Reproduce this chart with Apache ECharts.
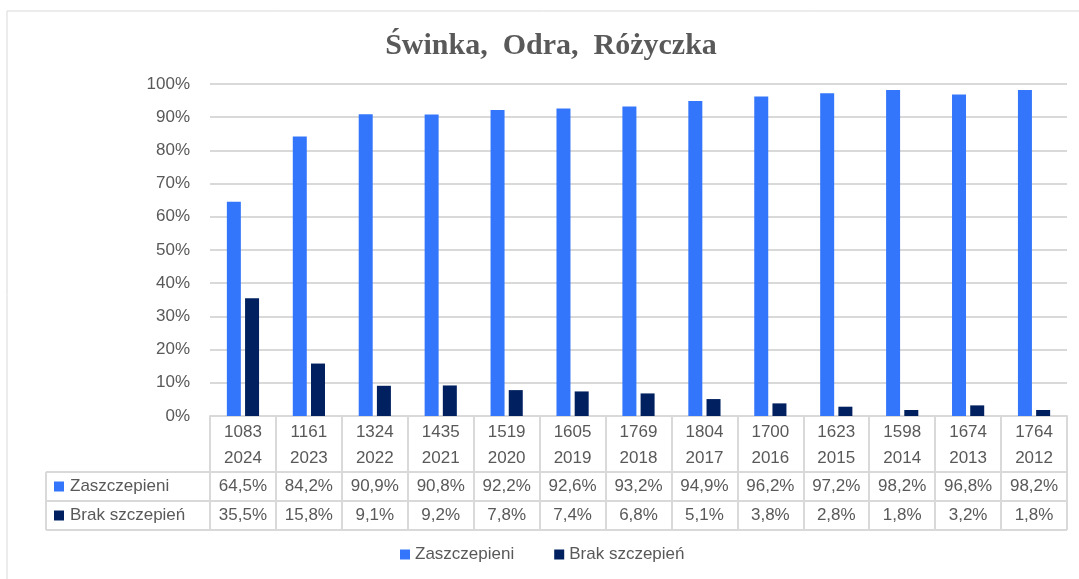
<!DOCTYPE html>
<html>
<head>
<meta charset="utf-8">
<script src="https://cdn.jsdelivr.net/npm/echarts@6/dist/echarts.min.js"></script>
<style>
  html, body { margin: 0; padding: 0; background: #fff; }
  #chart { width: 1079px; height: 579px; }
</style>
</head>
<body>
<div id="chart"></div>
<script>
const counts = ['1083', '1161', '1324', '1435', '1519', '1605', '1769', '1804', '1700', '1623', '1598', '1674', '1764'];
const years = ['2024', '2023', '2022', '2021', '2020', '2019', '2018', '2017', '2016', '2015', '2014', '2013', '2012'];
const vaccinated = [64.5, 84.2, 90.9, 90.8, 92.2, 92.6, 93.2, 94.9, 96.2, 97.2, 98.2, 96.8, 98.2];
const notVaccinated = [35.5, 15.8, 9.1, 9.2, 7.8, 7.4, 6.8, 5.1, 3.8, 2.8, 1.8, 3.2, 1.8];
const seriesNames = ['Zaszczepieni', 'Brak szczepień'];
const colors = ['#3476fb', '#002060'];

const FONT = 'Liberation Sans';
const FS = 17;
const TXT = '#595959';
const LINE = '#d9d9d9';

// plot area
const G = { left: 210, right: 12, top: 84, bottom: 163 };
const W = 1079, H = 579;
const axisY = H - G.bottom;           // 0% line
const plotRight = W - G.right;
const rowTop = axisY + 56;             // first series row in the table
const rowH = 29;
const tableLeft = 46;

const fmt = (v) => v.toFixed(1).replace('.', ',') + '%';

const chart = echarts.init(document.getElementById('chart'));

const labelAxis = (vals, offset) => ({
  type: 'category',
  data: vals.map(fmt),
  position: 'bottom',
  offset: offset,
  axisLine: { show: false },
  axisTick: { show: false },
  axisLabel: {
    interval: 0, margin: 0, color: TXT, fontFamily: FONT, fontSize: FS,
    lineHeight: rowH, verticalAlign: 'top'
  }
});

const graphic = [
  // outer border
  { type: 'rect', shape: { x: 7, y: 11, width: 1200, height: 700 }, style: { fill: 'none', stroke: LINE, lineWidth: 1 }, silent: true },
  // title
  { type: 'text', x: 551, y: 46, style: { text: 'Świnka,  Odra,  Różyczka', font: 'bold 30px "Liberation Serif"', fill: TXT, textAlign: 'center', textVerticalAlign: 'middle' } }
];

// table lines under the series rows
[rowTop, rowTop + rowH, rowTop + 2 * rowH].forEach((y) => {
  graphic.push({ type: 'line', shape: { x1: tableLeft, y1: y, x2: plotRight, y2: y }, style: { stroke: LINE, lineWidth: 2 }, silent: true });
});
graphic.push({ type: 'line', shape: { x1: tableLeft, y1: rowTop, x2: tableLeft, y2: rowTop + 2 * rowH }, style: { stroke: LINE, lineWidth: 2 }, silent: true });

// row headers
seriesNames.forEach((name, i) => {
  const cy = rowTop + rowH * i + rowH / 2;
  graphic.push({ type: 'rect', shape: { x: 54, y: cy - 5, width: 10, height: 10 }, style: { fill: colors[i] }, silent: true });
  graphic.push({ type: 'text', x: 70, y: cy, style: { text: name, font: FS + 'px "' + FONT + '"', fill: TXT, textVerticalAlign: 'middle' } });
});

const option = {
  animation: false,
  backgroundColor: '#fff',
  graphic: graphic,
  legend: {
    data: seriesNames,
    left: 395,
    bottom: 11,
    itemWidth: 10, itemHeight: 10, itemGap: 40,
    icon: 'rect',
    textStyle: { color: TXT, fontFamily: FONT, fontSize: FS }
  },
  grid: { left: G.left, right: G.right, top: G.top, bottom: G.bottom, containLabel: false },
  xAxis: [
    {
      type: 'category',
      data: counts,
      axisLine: { show: true, lineStyle: { color: LINE, width: 2 } },
      axisTick: { show: true, interval: 0, length: 114, lineStyle: { color: LINE, width: 2 } },
      axisLabel: {
        interval: 0, margin: 3, color: TXT, fontFamily: FONT, fontSize: FS, lineHeight: 26,
        formatter: (v, i) => v + '\n' + years[i]
      }
    },
    labelAxis(vaccinated, 56),
    labelAxis(notVaccinated, 85)
  ],
  yAxis: {
    type: 'value',
    min: 0, max: 100, interval: 10,
    axisLine: { show: false },
    axisTick: { show: false },
    axisLabel: { formatter: '{value}%', color: TXT, fontFamily: FONT, fontSize: FS, margin: 20 },
    splitLine: { lineStyle: { color: LINE, width: 2 } }
  },
  series: [
    { name: seriesNames[0], type: 'bar', data: vaccinated, barWidth: 14, barGap: '30%', itemStyle: { color: colors[0] } },
    { name: seriesNames[1], type: 'bar', data: notVaccinated, barWidth: 14, barGap: '30%', itemStyle: { color: colors[1] } }
  ]
};

chart.setOption(option);
</script>
</body>
</html>
